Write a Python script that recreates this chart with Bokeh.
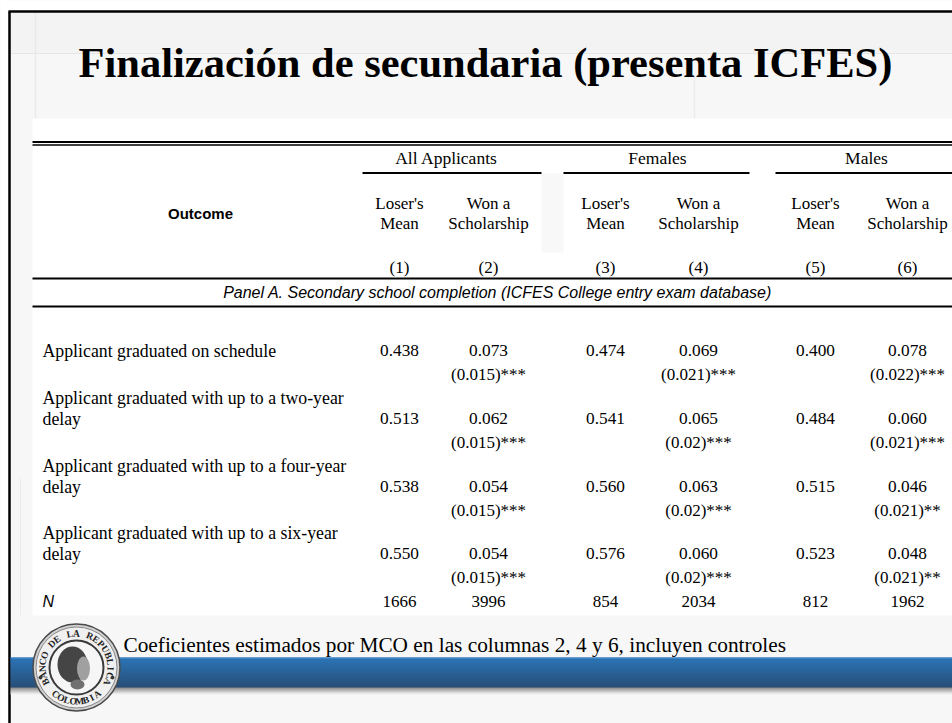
import math
from bokeh.plotting import figure
from bokeh.models import Range1d
from bokeh.core.properties import value
from bokeh.embed import file_html
from bokeh.resources import INLINE

# ---------------- data ----------------
title = "Finalización de secundaria (presenta ICFES)"
groups = ["All Applicants", "Females", "Males"]
head_line1 = ["Loser's", "Won a", "Loser's", "Won a", "Loser's", "Won a"]
head_line2 = ["Mean", "Scholarship", "Mean", "Scholarship", "Mean", "Scholarship"]
col_numbers = ["(1)", "(2)", "(3)", "(4)", "(5)", "(6)"]
outcome_label = "Outcome"
panel_label = "Panel A. Secondary school completion (ICFES College entry exam database)"
row_labels = [
    ["Applicant graduated on schedule"],
    ["Applicant graduated with up to a two-year", "delay"],
    ["Applicant graduated with up to a four-year", "delay"],
    ["Applicant graduated with up to a six-year", "delay"],
]
all_loser = [0.438, 0.513, 0.538, 0.550]
all_coef = [0.073, 0.062, 0.054, 0.054]
all_se = ["0.015", "0.015", "0.015", "0.015"]
all_stars = ["***", "***", "***", "***"]
fem_loser = [0.474, 0.541, 0.560, 0.576]
fem_coef = [0.069, 0.065, 0.063, 0.060]
fem_se = ["0.021", "0.02", "0.02", "0.02"]
fem_stars = ["***", "***", "***", "***"]
male_loser = [0.400, 0.484, 0.515, 0.523]
male_coef = [0.078, 0.060, 0.046, 0.048]
male_se = ["0.022", "0.021", "0.021", "0.021"]
male_stars = ["***", "***", "**", "**"]
n_label = "N"
n_obs = [1666, 3996, 854, 2034, 812, 1962]
footnote = "Coeficientes estimados por MCO en las columnas 2, 4 y 6, incluyen controles"
logo_top = "BANCO DE LA REPUBLICA"
logo_bottom = "COLOMBIA"

# ---------------- layout ----------------
W, H = 952, 723
p = figure(width=W, height=H, x_range=Range1d(0, W), y_range=Range1d(H, 0),
           x_axis_type=None, y_axis_type=None, output_backend="svg",
           toolbar_location=None, min_border=0)
p.grid.visible = False
p.outline_line_color = None
p.background_fill_color = "#f7f7f7"
p.border_fill_color = "#f7f7f7"

SERIF = value("Liberation Serif")
SANS = value("Liberation Sans")

# slide background pieces
p.quad(left=[0], right=[W], top=[0], bottom=[10], fill_color="white", line_color=None)
p.quad(left=[0], right=[8], top=[0], bottom=[H], fill_color="white", line_color=None)
p.quad(left=[10], right=[W], top=[12], bottom=[53], fill_color="#f3f3f3", line_color=None)
p.segment(x0=[10], y0=[53], x1=[W], y1=[53], line_color="#e6e6e6", line_width=1)
p.segment(x0=[35], y0=[12], x1=[35], y1=[118], line_color="#e9e9e9", line_width=1.5)
p.segment(x0=[694], y0=[75], x1=[694], y1=[118], line_color="#ececec", line_width=1.5)
p.segment(x0=[20], y0=[478], x1=[20], y1=[615], line_color="#ececec", line_width=1)
# white table area
p.quad(left=[32], right=[W], top=[118], bottom=[615], fill_color="white", line_color=None)
p.quad(left=[541], right=[563], top=[173], bottom=[252], fill_color="#f8f8f8", line_color=None)
# black slide border
p.segment(x0=[9, 8], y0=[11, 11], x1=[9, W], y1=[H, 11], line_color="black", line_width=2.5)

# title
p.text(x=[78], y=[62], text=[title], text_font=SERIF, text_font_style="bold",
       text_font_size="42.5px", text_baseline="middle", text_align="left", text_color="black")

# table rules
xl, xr = 32, W
p.segment(x0=[xl, xl, xl, xl], y0=[141.5, 144.5, 278, 306], x1=[xr, xr, xr, xr],
          y1=[141.5, 144.5, 278, 306], line_color="black", line_width=[2, 1.5, 2, 2])
grp_l = [362, 563, 775]
grp_r = [541, 749, W]
p.segment(x0=grp_l, y0=[172.5] * 3, x1=grp_r, y1=[172.5] * 3, line_color="black", line_width=2)
grp_c = [446, 657, 866]
p.text(x=grp_c, y=[157] * 3, text=groups, text_font=SERIF, text_font_size="17.5px",
       text_align="center", text_baseline="middle", text_color="black")

col_x = [399, 488, 605, 698, 815, 907]
p.text(x=col_x, y=[203] * 6, text=head_line1, text_font=SERIF, text_font_size="17px",
       text_align="center", text_baseline="middle")
p.text(x=col_x, y=[223] * 6, text=head_line2, text_font=SERIF, text_font_size="17px",
       text_align="center", text_baseline="middle")
p.text(x=col_x, y=[267] * 6, text=col_numbers, text_font=SERIF, text_font_size="17px",
       text_align="center", text_baseline="middle")
p.text(x=[200], y=[213], text=[outcome_label], text_font=SANS, text_font_style="bold",
       text_font_size="15px", text_align="center", text_baseline="middle")
p.text(x=[497], y=[292], text=[panel_label], text_font=SANS, text_font_style="italic",
       text_font_size="16px", text_align="center", text_baseline="middle")

# body rows
row_y = [350, 418, 486, 553]
se_dy = 24
lab_x, lab_y, lab_t = [], [], []
for lines, y in zip(row_labels, row_y):
    for k, t in enumerate(lines):
        lab_x.append(42)
        lab_y.append(y - 21 * (len(lines) - 1 - k))
        lab_t.append(t)
p.text(x=lab_x, y=lab_y, text=lab_t, text_font=SERIF, text_font_size="17.8px",
       text_align="left", text_baseline="middle")

val_x, val_y, val_t = [], [], []
se_x, se_y, se_t = [], [], []
for ci, (los, coef, se, st) in enumerate([(all_loser, all_coef, all_se, all_stars),
                                          (fem_loser, fem_coef, fem_se, fem_stars),
                                          (male_loser, male_coef, male_se, male_stars)]):
    for r in range(len(row_y)):
        val_x += [col_x[2 * ci], col_x[2 * ci + 1]]
        val_y += [row_y[r], row_y[r]]
        val_t += [f"{los[r]:.3f}", f"{coef[r]:.3f}"]
        se_x.append(col_x[2 * ci + 1])
        se_y.append(row_y[r] + se_dy)
        se_t.append(f"({se[r]}){st[r]}")
p.text(x=val_x, y=val_y, text=val_t, text_font=SERIF, text_font_size="17.3px",
       text_align="center", text_baseline="middle")
p.text(x=se_x, y=se_y, text=se_t, text_font=SERIF, text_font_size="17px",
       text_align="center", text_baseline="middle")

p.text(x=[42], y=[601], text=[n_label], text_font=SANS, text_font_style="italic",
       text_font_size="16px", text_align="left", text_baseline="middle")
p.text(x=col_x, y=[601] * 6, text=[str(v) for v in n_obs], text_font=SERIF,
       text_font_size="17px", text_align="center", text_baseline="middle")

# blue band with gradient
def mix(c1, c2, t):
    a = [int(c1[i:i + 2], 16) for i in (1, 3, 5)]
    b = [int(c2[i:i + 2], 16) for i in (1, 3, 5)]
    return "#%02x%02x%02x" % tuple(round(a[i] + (b[i] - a[i]) * t) for i in range(3))

band_top, band_bot = 657, 687
n_st = 30
tops = [band_top + (band_bot - band_top) * i / n_st for i in range(n_st)]
bots = [band_top + (band_bot - band_top) * (i + 1) / n_st + 0.3 for i in range(n_st)]
cols = [mix("#0f62ad", "#0a3766", i / (n_st - 1)) for i in range(n_st)]
p.quad(left=[10] * n_st, right=[W] * n_st, top=tops, bottom=bots, fill_color=cols, line_color=None)
p.segment(x0=[10], y0=[657.5], x1=[W], y1=[657.5], line_color="#4e8fcf", line_width=1)
sh_n = 7
sh_t = [687 + i for i in range(sh_n)]
sh_b = [688 + i for i in range(sh_n)]
sh_c = [mix("#6a6a6a", "#eeeeee", i / (sh_n - 1)) for i in range(sh_n)]
p.quad(left=[10] * sh_n, right=[W] * sh_n, top=sh_t, bottom=sh_b, fill_color=sh_c, line_color=None)

# footnote
p.text(x=[123], y=[644], text=[footnote], text_font=SERIF, text_font_size="21.3px",
       text_align="left", text_baseline="middle")

# logo (coin)
cx, cy = 76, 667
p.ellipse(x=[cx], y=[cy], width=[87], height=[87], fill_color="#d0d0d0", line_color="#4a4a4a", line_width=1.5)
p.ellipse(x=[cx], y=[cy], width=[81], height=[81], fill_color="#f0f0f0", line_color="#8a8a8a", line_width=1)
p.ellipse(x=[cx], y=[cy], width=[54], height=[54], fill_color="#f6f6f6", line_color="#3a3a3a", line_width=2)
p.ellipse(x=[cx - 4], y=[cy - 3], width=[30], height=[36], fill_color="#454545", line_color=None)
p.ellipse(x=[cx + 7], y=[cy + 1], width=[13], height=[24], fill_color="#a0a0a0", line_color=None)
p.ellipse(x=[cx + 1], y=[cy + 17], width=[14], height=[10], fill_color="#707070", line_color=None)
r_txt = 34
tx, ty, ta, tt = [], [], [], []
n1 = len(logo_top)
for i, ch in enumerate(logo_top):
    th = math.radians(205 - i * (230 / (n1 - 1)))
    tx.append(cx + r_txt * math.cos(th))
    ty.append(cy - r_txt * math.sin(th))
    ta.append(th - math.pi / 2)
    tt.append(ch)
n2 = len(logo_bottom)
for i, ch in enumerate(logo_bottom):
    th = math.radians(232 + i * (76 / (n2 - 1)))
    tx.append(cx + r_txt * math.cos(th))
    ty.append(cy - r_txt * math.sin(th))
    ta.append(th - 3 * math.pi / 2)
    tt.append(ch)
p.text(x=tx, y=ty, text=tt, angle=ta, text_font=SERIF, text_font_style="bold",
       text_font_size="9.5px", text_align="center", text_baseline="middle", text_color="#222222")
p.scatter(x=[cx - 36, cx + 36], y=[cy + 10, cy + 10], size=3, marker="circle", color="#333333")

open("out.html", "w").write(file_html(p, INLINE))
